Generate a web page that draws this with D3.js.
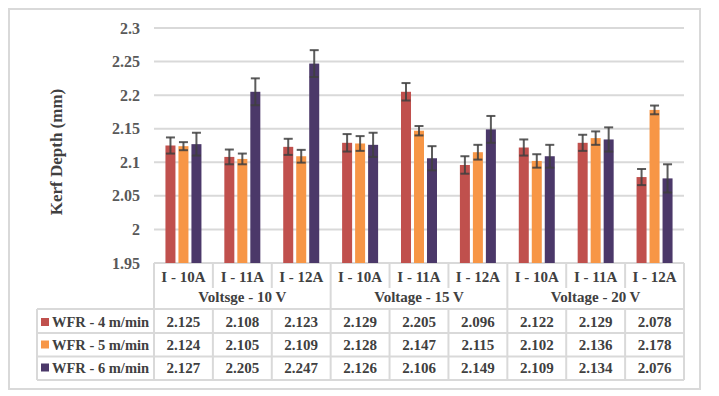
<!DOCTYPE html>
<meta charset="utf-8">
<head>
  <title>Kerf depth grouped bars with data table</title>
</head>

<style>
body { margin: 0; background: #fff; }
text {
  font-family: "Liberation Serif", "Times New Roman", serif;
  font-weight: bold;
}
.grid line { stroke: #d9d9d9; stroke-width: 2; }
.tbl line { stroke: #d9d9d9; stroke-width: 2; }
.tick-label { fill: #595959; font-size: 16px; }
.cell { fill: #404040; font-size: 15px; }
</style>

<body>
  <svg width="719" height="396"></svg>

  <script src="https://cdnjs.cloudflare.com/ajax/libs/d3/7.8.5/d3.min.js"></script>
  <script>
var categories = ['I - 10A', 'I - 11A', 'I - 12A', 'I - 10A ', 'I - 11A ', 'I - 12A ', 'I - 10A  ', 'I - 11A  ', 'I - 12A  '];
var groups = ['Voltsge - 10 V', 'Voltage - 15 V', 'Voltage - 20 V'];
var seriesNames = ['WFR - 4 m/min', 'WFR - 5 m/min', 'WFR - 6 m/min'];
var seriesColors = ['#c0504d', '#f79646', '#4b3869'];

var wfr4 = [2.125, 2.108, 2.123, 2.129, 2.205, 2.096, 2.122, 2.129, 2.078];
var wfr5 = [2.124, 2.105, 2.109, 2.128, 2.147, 2.115, 2.102, 2.136, 2.178];
var wfr6 = [2.127, 2.205, 2.247, 2.126, 2.106, 2.149, 2.109, 2.134, 2.076];

var err4 = [0.012, 0.011, 0.012, 0.013, 0.013, 0.013, 0.012, 0.012, 0.012];
var err5 = [0.006, 0.008, 0.0095, 0.011, 0.007, 0.011, 0.010, 0.010, 0.0065];
var err6 = [0.017, 0.020, 0.020, 0.018, 0.018, 0.020, 0.017, 0.018, 0.021];

var yTicks = [1.95, 2, 2.05, 2.1, 2.15, 2.2, 2.25, 2.3];

var values = [wfr4, wfr5, wfr6];
var errors = [err4, err5, err6];

var svg = d3.select('svg');

// outer chart border
svg.append('rect')
  .attr('x', 9).attr('y', 9)
  .attr('width', 691).attr('height', 380)
  .attr('fill', 'none')
  .attr('stroke', '#d9d9d9')
  .attr('stroke-width', 2);

var x = d3.scaleBand()
  .domain(categories)
  .range([154, 684]);

var xs = d3.scaleBand()
  .domain(seriesNames)
  .range([x.bandwidth() / 2 - 18, x.bandwidth() / 2 + 18])
  .paddingInner(0.23);

var y = d3.scaleLinear()
  .domain([1.95, 2.3])
  .range([263, 28]);

// gridlines
svg.append('g').attr('class', 'grid')
  .selectAll('line')
  .data(yTicks)
  .enter()
  .append('line')
  .attr('x1', 154).attr('x2', 684)
  .attr('y1', function(d) { return y(d); })
  .attr('y2', function(d) { return y(d); });

// tick labels
svg.append('g')
  .selectAll('text')
  .data(yTicks)
  .enter()
  .append('text')
  .attr('class', 'tick-label')
  .attr('x', 140)
  .attr('y', function(d) { return y(d); })
  .attr('dy', '0.35em')
  .attr('text-anchor', 'end')
  .text(function(d) { return String(+d.toFixed(2)); });

// axis title
svg.append('text')
  .attr('transform', 'translate(62,152) rotate(-90)')
  .attr('text-anchor', 'middle')
  .attr('fill', '#404040')
  .style('font-size', '17px')
  .text('Kerf Depth (mm)');

// bars
var rows = [];
values.forEach(function(vals, s) {
  vals.forEach(function(v, i) {
    rows.push({ s: s, i: i, v: v, e: errors[s][i] });
  });
});

var bars = svg.append('g')
  .selectAll('g')
  .data(rows)
  .enter()
  .append('g')
  .attr('transform', function(d) {
    return 'translate(' + (x(categories[d.i]) + xs(seriesNames[d.s])) + ',0)';
  });

bars.append('rect')
  .attr('width', xs.bandwidth())
  .attr('y', function(d) { return y(d.v); })
  .attr('height', function(d) { return y(1.95) - y(d.v); })
  .attr('fill', function(d) { return seriesColors[d.s]; });

var cx = xs.bandwidth() / 2;
bars.append('line')
  .attr('x1', cx).attr('x2', cx)
  .attr('y1', function(d) { return y(d.v + d.e); })
  .attr('y2', function(d) { return y(d.v - d.e); })
  .attr('stroke', '#404040').attr('stroke-width', 2).attr('opacity', 0.85);
[1, -1].forEach(function(sign) {
  bars.append('line')
    .attr('x1', cx - 4.5).attr('x2', cx + 4.5)
    .attr('y1', function(d) { return y(d.v + sign * d.e); })
    .attr('y2', function(d) { return y(d.v + sign * d.e); })
    .attr('stroke', '#404040').attr('stroke-width', 2).attr('opacity', 0.85);
});

// data table
var tbl = svg.append('g').attr('class', 'tbl');
var rowLines = [309, 333, 356.5, 380];
var bounds = categories.map(function(c) { return x(c); }).concat([684]);

rowLines.forEach(function(ry) {
  tbl.append('line').attr('x1', 37).attr('x2', 684).attr('y1', ry).attr('y2', ry);
});
tbl.append('line').attr('x1', 37).attr('x2', 37).attr('y1', 309).attr('y2', 380);
bounds.forEach(function(bx, k) {
  var full = k % 3 === 0;
  tbl.append('line').attr('x1', bx).attr('x2', bx)
    .attr('y1', full ? 263 : 263).attr('y2', full ? 380 : 288);
  if (!full) {
    tbl.append('line').attr('x1', bx).attr('x2', bx).attr('y1', 309).attr('y2', 380);
  }
});

svg.append('g')
  .selectAll('text')
  .data(categories)
  .enter()
  .append('text')
  .attr('class', 'cell')
  .attr('x', function(d) { return x(d) + x.bandwidth() / 2; })
  .attr('y', 282)
  .attr('text-anchor', 'middle')
  .text(function(d) { return d.trim(); });

svg.append('g')
  .selectAll('text')
  .data(groups)
  .enter()
  .append('text')
  .attr('class', 'cell')
  .attr('x', function(d, g) { return (bounds[g * 3] + bounds[g * 3 + 3]) / 2; })
  .attr('y', 302)
  .attr('text-anchor', 'middle')
  .text(function(d) { return d; });

var rowBase = [327, 349.5, 372.5];
values.forEach(function(vals, s) {
  svg.append('rect')
    .attr('x', 41).attr('y', rowBase[s] - 9)
    .attr('width', 8).attr('height', 8)
    .attr('fill', seriesColors[s]);
  svg.append('text')
    .attr('class', 'cell')
    .attr('x', 52).attr('y', rowBase[s])
    .style('font-size', '14.5px')
    .text(seriesNames[s]);
  svg.append('g')
    .selectAll('text')
    .data(vals)
    .enter()
    .append('text')
    .attr('class', 'cell')
    .attr('x', function(d, i) { return x(categories[i]) + x.bandwidth() / 2; })
    .attr('y', rowBase[s])
    .attr('text-anchor', 'middle')
    .text(function(d) { return d.toFixed(3); });
});
  </script>
</body>
</html>
